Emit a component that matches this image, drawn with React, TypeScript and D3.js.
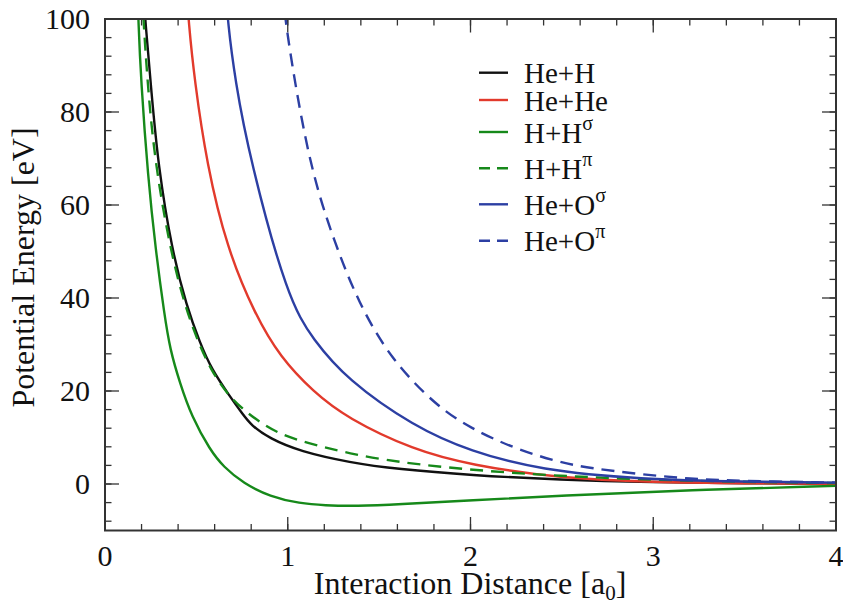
import React from "react";
import * as d3 from "d3";

type P = [number, number];

const heH: P[] = [
  [0.212, 106], [0.219, 100], [0.255, 84], [0.29, 68.8], [0.365, 50.4], [0.447, 38.2],
  [0.52, 30.3], [0.584, 24.6], [0.684, 18.8], [0.75, 15.2], [0.80, 12.6],
  [0.9, 9.8], [1.067, 7.0], [1.34, 4.6], [1.6, 3.2], [2.0, 1.9], [2.49, 0.9],
  [3.0, 0.4], [3.5, 0.15], [4.0, 0.05],
];
const heHe: P[] = [
  [0.45, 105], [0.456, 100], [0.49, 86.7], [0.557, 68.8], [0.666, 50.8], [0.821, 36.4],
  [0.958, 27.3], [1.14, 19.8], [1.323, 14.2], [1.688, 7.3], [2.0, 4.1], [2.49, 1.2],
  [3.0, 0.4], [3.5, 0.15], [4.0, 0.05],
];
const hhSigma: P[] = [
  [0.177, 108], [0.182, 100], [0.197, 86.7], [0.235, 66], [0.277, 50.4], [0.325, 36.4],
  [0.356, 28.9], [0.41, 21.7], [0.474, 14.5], [0.575, 7.3], [0.648, 3.7], [0.757, 0.15],
  [0.903, -2.7], [1.067, -4.2], [1.2, -4.6], [1.378, -4.75], [1.6, -4.4], [2.0, -3.5],
  [2.49, -2.5], [3.2, -1.3], [4.0, -0.4],
];
const hhPi: P[] = [
  [0.205, 105], [0.21, 100], [0.232, 86.7], [0.27, 70], [0.356, 50.4], [0.44, 38],
  [0.51, 30.5], [0.58, 24.5], [0.666, 19.5], [0.75, 16.2], [0.85, 13.2], [0.958, 10.7],
  [1.1, 8.9], [1.34, 6.5], [1.6, 4.7], [2.0, 3.0], [2.49, 1.7], [3.0, 0.9], [3.5, 0.45],
  [4.0, 0.2],
];
const heOSigma: P[] = [
  [0.665, 105], [0.67, 100], [0.712, 86.7], [0.792, 70], [1.0, 39.7],
  [1.14, 31], [1.323, 22.5], [1.688, 12.4], [2.0, 7.0], [2.38, 3.0], [2.93, 1.0],
  [3.5, 0.5], [4.0, 0.3],
];
const heOPi: P[] = [
  [0.975, 106], [0.982, 100], [1.113, 68.8], [1.26, 51.5], [1.385, 39.2],
  [1.56, 27], [1.815, 16.7], [2.0, 12.0], [2.235, 7.7], [2.49, 4.6],
  [2.655, 3.4], [2.93, 2.1], [3.2, 1.08], [3.48, 0.65], [4.0, 0.3],
];

const seriesNames = ["He+H", "He+He", "H+H", "H+H", "He+O", "He+O"];
const seriesSup = ["", "", "σ", "π", "σ", "π"];
const seriesColors = ["#111111", "#e23a2c", "#16891a", "#16891a", "#2c3fa3", "#2c3fa3"];
const seriesDashed = [false, false, false, true, false, true];
const seriesData = [heH, heHe, hhSigma, hhPi, heOSigma, heOPi];

const xTicks = [0, 1, 2, 3, 4];
const yTicks = [0, 20, 40, 60, 80, 100];

const W = 843, H = 606;
const L = 105, R = 836, T = 19, B = 530.5;
const FONT = "Liberation Serif, Times New Roman, Times, serif";
const txt = { fontFamily: FONT };

export default function App() {
  const x = d3.scaleLinear().domain([0, 4]).range([L, R]);
  const y = d3.scaleLinear().domain([-10, 100]).range([B, T]);
  const line = d3
    .line<P>()
    .x((d) => x(d[0]))
    .y((d) => y(d[1]))
    .curve(d3.curveBasis);

  const xMinor = d3.range(0, 4.0001, 0.2);
  const yMinor = d3.range(-8, 100.001, 4);
  const axisColor = "#333";
  const legendRowsY = [72.7, 100, 132, 168.3, 204.3, 240.7];

  return (
    <svg
      width={W}
      height={H}
      style={{ position: "absolute", left: 0, top: 0, background: "#fff" }}
    >
      <defs>
        <clipPath id="plotclip">
          <rect x={L} y={T} width={R - L} height={B - T} />
        </clipPath>
      </defs>
      <rect x={0} y={0} width={W} height={H} fill="#fff" />

      {xMinor.map((v, i) => (
        <g key={"xm" + i} stroke={axisColor} strokeWidth={1.3}>
          <line x1={x(v)} x2={x(v)} y1={B} y2={B - 6.5} />
          <line x1={x(v)} x2={x(v)} y1={T} y2={T + 6.5} />
        </g>
      ))}
      {yMinor.map((v, i) => (
        <g key={"ym" + i} stroke={axisColor} strokeWidth={1.3}>
          <line x1={L} x2={L + 6.5} y1={y(v)} y2={y(v)} />
          <line x1={R} x2={R - 6.5} y1={y(v)} y2={y(v)} />
        </g>
      ))}
      {xTicks.map((v, i) => (
        <g key={"xM" + i} stroke={axisColor} strokeWidth={1.3}>
          <line x1={x(v)} x2={x(v)} y1={B} y2={B - 13.5} />
          <line x1={x(v)} x2={x(v)} y1={T} y2={T + 13.5} />
        </g>
      ))}
      {yTicks.map((v, i) => (
        <g key={"yM" + i} stroke={axisColor} strokeWidth={1.3}>
          <line x1={L} x2={L + 14} y1={y(v)} y2={y(v)} />
          <line x1={R} x2={R - 14} y1={y(v)} y2={y(v)} />
        </g>
      ))}

      <g clipPath="url(#plotclip)">
        {seriesData.map((d, i) => (
          <path
            key={"s" + i}
            d={line(d) || ""}
            fill="none"
            stroke={seriesColors[i]}
            strokeWidth={2.4}
            strokeDasharray={seriesDashed[i] ? "13,8" : undefined}
            strokeLinejoin="round"
          />
        ))}
      </g>

      <rect x={L} y={T} width={R - L} height={B - T} fill="none" stroke={axisColor} strokeWidth={2} />

      {yTicks.map((v, i) => (
        <text key={"yl" + i} x={90} y={y(v) + 10} textAnchor="end" fontSize={30} fill="#111" style={txt}>
          {v}
        </text>
      ))}
      {xTicks.map((v, i) => (
        <text key={"xl" + i} x={x(v)} y={566} textAnchor="middle" fontSize={30} fill="#111" style={txt}>
          {v}
        </text>
      ))}

      <text
        transform={`translate(34,267.5) rotate(-90)`}
        textAnchor="middle"
        fontSize={32}
        fill="#111"
        style={txt}
      >
        Potential Energy [eV]
      </text>
      <text x={470} y={594} textAnchor="middle" fontSize={32} fill="#111" style={txt}>
        Interaction Distance [a
        <tspan fontSize={21} dy={6}>0</tspan>
        <tspan dy={-6}>]</tspan>
      </text>

      {seriesNames.map((name, i) => (
        <g key={"lg" + i}>
          <line
            x1={479}
            x2={508}
            y1={legendRowsY[i]}
            y2={legendRowsY[i]}
            stroke={seriesColors[i]}
            strokeWidth={2.4}
            strokeDasharray={seriesDashed[i] ? "11,7" : undefined}
          />
          <text x={524} y={legendRowsY[i] + 10.5} fontSize={29} fill="#111" style={txt}>
            {name}
            {seriesSup[i] ? (
              <tspan fontSize={20} dy={-13}>
                {seriesSup[i]}
              </tspan>
            ) : null}
          </text>
        </g>
      ))}
    </svg>
  );
}
